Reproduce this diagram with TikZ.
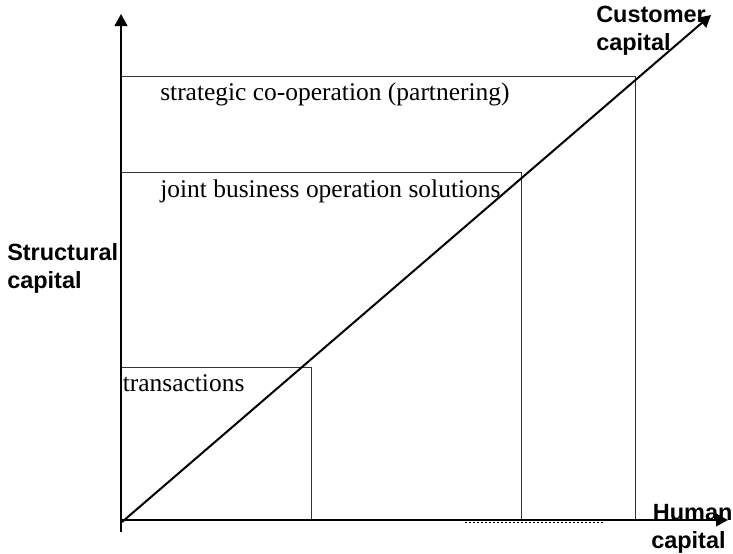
\documentclass[tikz,border=0pt]{standalone}
\usepackage{fontspec}
\setmainfont{Liberation Serif}
\setsansfont{Liberation Sans}
\usetikzlibrary{arrows.meta}
\tikzset{
  axis/.style={line width=1.5pt, -{Triangle[length=9pt,width=9.5pt]}},
  zone/.style={line width=0.75pt, draw=black!80},
  zonetext/.style={anchor=base west, inner sep=0pt, font=\fontsize{19.1pt}{22pt}\selectfont},
  axislabel/.style={anchor=base west, inner sep=0pt, align=left,
    font=\sffamily\bfseries\fontsize{17.6pt}{20.5pt}\selectfont},
}
\begin{document}
\begin{tikzpicture}[x=0.75pt, y=-0.75pt]
\useasboundingbox (0,0) rectangle (733,554);
% corner coordinates
\coordinate (O) at (121,520);
\coordinate (Ybot) at (121,532);
\coordinate (Ytop) at (121,14);
\coordinate (Xend) at (728,520);
\coordinate (Dstart) at (122,522);
\coordinate (Dend) at (711,15);
\coordinate (T) at (311,367);
\coordinate (J) at (521,172);
\coordinate (S) at (635,76);
% zones
\draw[zone] (O) rectangle (S);
\draw[zone] (O) rectangle (J);
\draw[zone] (O) rectangle (T);
% axes
\draw[axis] (Ybot) -- (Ytop);
\draw[axis] (O) -- (Xend);
\draw[axis] (Dstart) -- (Dend);
% small dotted trace under the x axis
\coordinate (d1) at (465,522.5);
\coordinate (d2) at (603,522.5);
\draw[line width=1.1pt, dash pattern=on 1.8pt off 1.2pt] (d1) -- (d2);
% zone labels
\node[zonetext] (ts) at (160,100) {strategic co-operation (partnering)};
\node[zonetext] (tj) at (160,197) {joint business operation solutions};
\node[zonetext] (tt) at (122.5,391.5) {transactions};
% axis labels (anchor = baseline of the last line)
\node[axislabel] (ly) at (7,288) {Structural\\capital};
\node[axislabel] (lc) at (596,50) {Customer\\capital};
\node[axislabel] (lx) at (651,548) {\hspace{1.2pt}Human\\capital};
\end{tikzpicture}
\end{document}
